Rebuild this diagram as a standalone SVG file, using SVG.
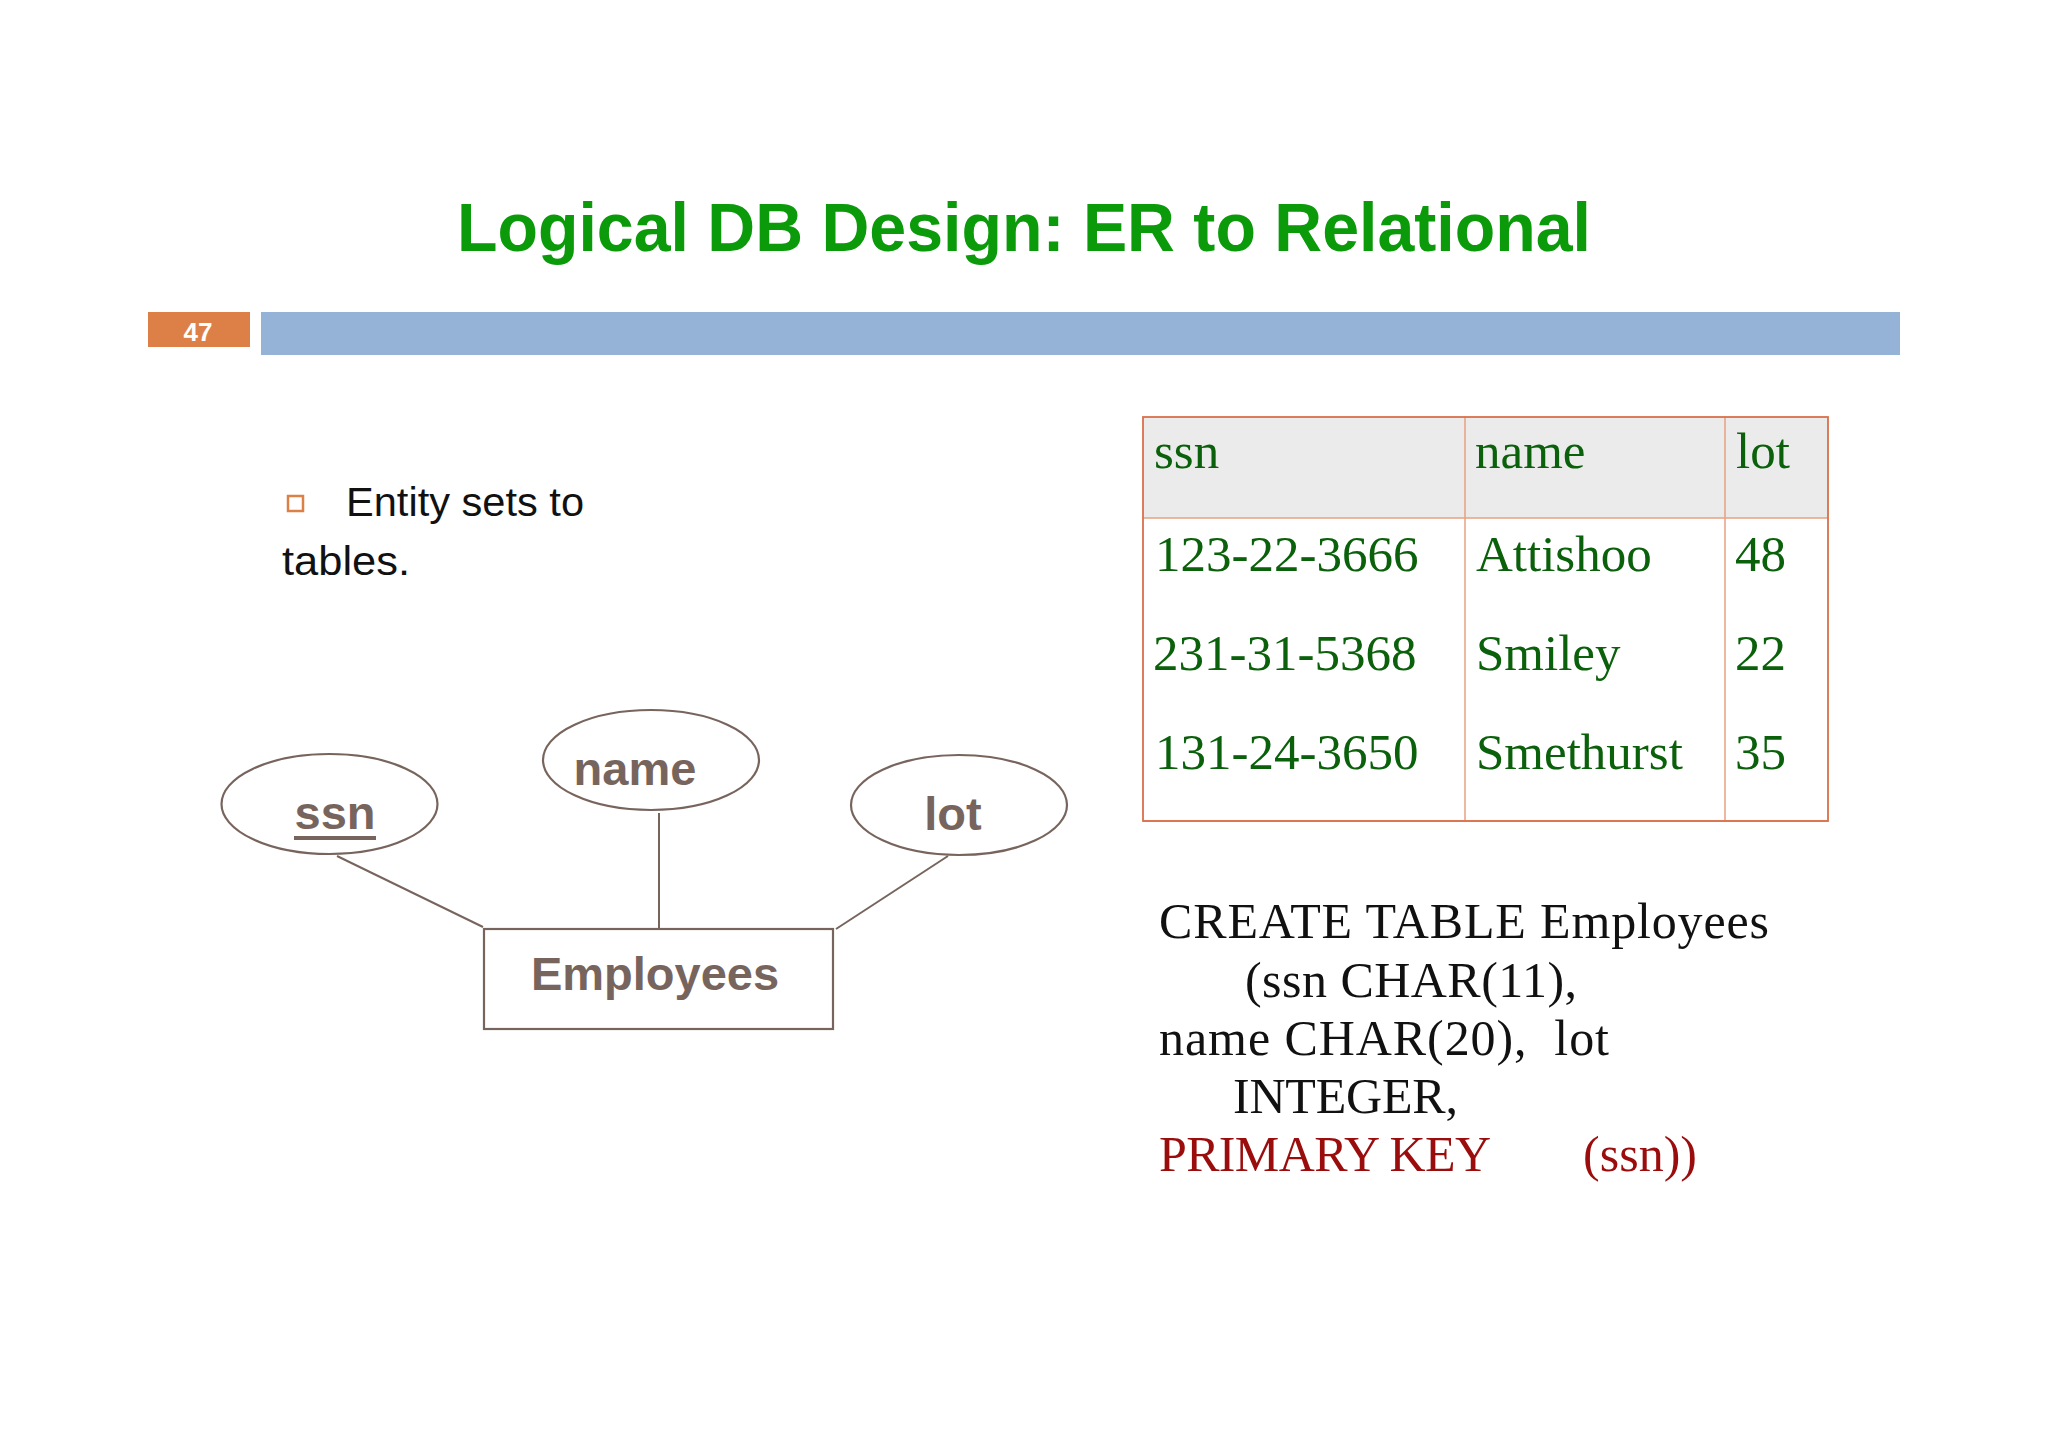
<svg xmlns="http://www.w3.org/2000/svg" width="2048" height="1448" viewBox="0 0 2048 1448">
<style>
.er{fill:none;stroke:#77655d;stroke-width:2.2}
.erl{stroke:#77655d;stroke-width:2}
.ert{font-family:"Liberation Sans",Arial,sans-serif;font-weight:bold;font-size:47px;fill:#77655d;text-anchor:middle}
.tb{font-family:"Liberation Serif","Times New Roman",serif;font-size:51px;fill:#0b600b}
.sql{font-family:"Liberation Serif","Times New Roman",serif;font-size:50px;fill:#111}
.grid{stroke:#e8a080;stroke-width:1.5}
</style>
<rect width="2048" height="1448" fill="#fff"/>
<g id="title">
<text x="457" y="251" font-family="'Liberation Sans',Arial,sans-serif" font-weight="bold" font-size="68" fill="#0a9a0a" textLength="1134" lengthAdjust="spacingAndGlyphs">Logical DB Design: ER to Relational</text>
</g>
<g id="header-bar">
<rect x="148" y="312" width="102" height="35" fill="#dd8047"/>
<text x="198" y="341" font-family="'Liberation Sans',Arial,sans-serif" font-weight="bold" font-size="26" fill="#fff" text-anchor="middle">47</text>
<rect x="261" y="312" width="1639" height="43" fill="#95b3d7"/>
</g>
<g id="bullet">
<rect x="288" y="496" width="15" height="15" fill="none" stroke="#dd8047" stroke-width="2.5"/>
<text x="346" y="516" font-family="'Liberation Sans',Arial,sans-serif" font-size="40" fill="#111" textLength="238" lengthAdjust="spacingAndGlyphs">Entity sets to</text>
<text x="282" y="575" font-family="'Liberation Sans',Arial,sans-serif" font-size="40" fill="#111" textLength="128" lengthAdjust="spacingAndGlyphs">tables.</text>
</g>
<g id="connectors">
<line class="erl" x1="337" y1="856" x2="483" y2="927"/>
<line class="erl" x1="659" y1="813" x2="659" y2="928"/>
<line class="erl" x1="948" y1="856" x2="836" y2="929"/>
</g>
<g id="node-ssn">
<ellipse class="er" cx="329.5" cy="804" rx="108" ry="50"/>
<text class="ert" x="335" y="829">ssn</text>
<rect x="294" y="836" width="82" height="4" fill="#77655d"/>
</g>
<g id="node-name">
<ellipse class="er" cx="651" cy="760" rx="108" ry="50"/>
<text class="ert" x="635" y="785">name</text>
</g>
<g id="node-lot">
<ellipse class="er" cx="959" cy="805" rx="108" ry="50"/>
<text class="ert" x="953" y="830">lot</text>
</g>
<g id="node-employees">
<rect class="er" x="484" y="929" width="349" height="100"/>
<text class="ert" x="655" y="990" font-size="48">Employees</text>
</g>
<g id="table">
<rect x="1143" y="417" width="685" height="101" fill="#ebebeb"/>
<line class="grid" x1="1143" y1="518" x2="1828" y2="518"/>
<line class="grid" x1="1465" y1="417" x2="1465" y2="821"/>
<line class="grid" x1="1725" y1="417" x2="1725" y2="821"/>
<line class="grid" x1="1143" y1="821" x2="1828" y2="821"/>
<rect x="1143" y="417" width="685" height="404" fill="none" stroke="#d9704a" stroke-width="1.8"/>
<text class="tb" x="1154" y="468">ssn</text>
<text class="tb" x="1475" y="468">name</text>
<text class="tb" x="1736" y="468">lot</text>
<text class="tb" x="1155" y="571">123-22-3666</text>
<text class="tb" x="1476" y="571">Attishoo</text>
<text class="tb" x="1735" y="571">48</text>
<text class="tb" x="1153" y="670">231-31-5368</text>
<text class="tb" x="1476" y="670">Smiley</text>
<text class="tb" x="1735" y="670">22</text>
<text class="tb" x="1155" y="769">131-24-3650</text>
<text class="tb" x="1476" y="769">Smethurst</text>
<text class="tb" x="1735" y="769">35</text>
</g>
<g id="sql">
<text class="sql" x="1159" y="938" textLength="610">CREATE TABLE Employees</text>
<text class="sql" x="1245" y="997" textLength="332">(ssn CHAR(11),</text>
<text class="sql" x="1159" y="1055" textLength="450" xml:space="preserve">name CHAR(20),  lot</text>
<text class="sql" x="1233" y="1113" textLength="225">INTEGER,</text>
<text class="sql" x="1159" y="1171" style="fill:#9b0c0c" textLength="332">PRIMARY KEY</text>
<text class="sql" x="1583" y="1171" style="fill:#9b0c0c" textLength="114">(ssn))</text>
</g>
</svg>
